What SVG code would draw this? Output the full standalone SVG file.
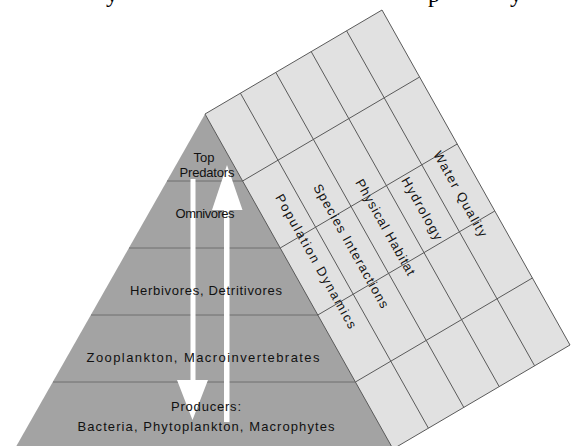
<svg xmlns="http://www.w3.org/2000/svg" width="577" height="446" viewBox="0 0 577 446">
  <style>
    .lbl { font-family: "Liberation Sans", Arial, sans-serif; font-size: 13px; fill: #111; }
    .band { stroke: #6e6e6e; stroke-width: 1; fill: none; }
    .grid { stroke: #5a5a5a; stroke-width: 1; fill: none; }
    .arrow { fill: #ffffff; stroke: none; }
    .frag { font-family: "Liberation Serif", "Times New Roman", serif; font-size: 24px; fill: #000; }
  </style>
  <rect width="577" height="446" fill="#ffffff"/>
  <g id="page-text-fragments">
    <text class="frag" x="106" y="2">y</text>
    <text class="frag" x="428" y="2">p</text>
    <text class="frag" x="510" y="2">y</text>
  </g>
  <g id="pyramid">
    <polygon points="205,114 13,452 400,452" fill="#a3a3a3"/>
    <line class="band" x1="167" y1="181" x2="243" y2="181"/>
    <line class="band" x1="129" y1="248" x2="281" y2="248"/>
    <line class="band" x1="91" y1="315" x2="318" y2="315"/>
    <line class="band" x1="53" y1="382" x2="356" y2="382"/>
  </g>
  <g id="roof">
    <polygon points="205,114 382,10 570,345 393,449" fill="#e1e1e1" stroke="#5a5a5a" stroke-width="1"/>
    <line class="grid" x1="240.4" y1="93.2" x2="428.4" y2="428.2"/>
    <line class="grid" x1="275.8" y1="72.4" x2="463.8" y2="407.4"/>
    <line class="grid" x1="311.2" y1="51.6" x2="499.2" y2="386.6"/>
    <line class="grid" x1="346.6" y1="30.8" x2="534.6" y2="365.8"/>
    <line class="grid" x1="242.6" y1="181" x2="419.6" y2="77"/>
    <line class="grid" x1="280.2" y1="248" x2="457.2" y2="144"/>
    <line class="grid" x1="317.8" y1="315" x2="494.8" y2="211"/>
    <line class="grid" x1="355.4" y1="382" x2="532.4" y2="278"/>
  </g>
  <g id="connectors">
    <polygon class="arrow" points="190.5,179 195.5,179 195.5,380 208,380 192.5,420 177,380 190.5,380"/>
    <polygon class="arrow" points="224,422 229.5,422 229.5,210 242.5,210 227,165 212,210 224,210"/>
  </g>
  <g id="level-top-predators">
    <text class="lbl" x="204" y="162" text-anchor="middle">Top</text>
    <text class="lbl" x="207" y="177" text-anchor="middle" textLength="55">Predators</text>
  </g>
  <g id="level-omnivores">
    <text class="lbl" x="205" y="218" text-anchor="middle" textLength="59">Omnivores</text>
  </g>
  <g id="level-herbivores">
    <text class="lbl" x="206" y="295" text-anchor="middle" textLength="152">Herbivores, Detritivores</text>
  </g>
  <g id="level-zooplankton">
    <text class="lbl" x="203" y="362" text-anchor="middle" textLength="233">Zooplankton,  Macroinvertebrates</text>
  </g>
  <g id="level-producers">
    <text class="lbl" x="206" y="411" text-anchor="middle" textLength="70">Producers:</text>
    <text class="lbl" x="206" y="431" text-anchor="middle" textLength="257">Bacteria, Phytoplankton, Macrophytes</text>
  </g>
  <g id="factor-population-dynamics">
    <text class="lbl" dominant-baseline="central" transform="translate(279,195) rotate(60.7)" textLength="152">Population Dynamics</text>
  </g>
  <g id="factor-species-interactions">
    <text class="lbl" dominant-baseline="central" transform="translate(317,185) rotate(60.7)" textLength="140">Species Interactions</text>
  </g>
  <g id="factor-physical-habitat">
    <text class="lbl" dominant-baseline="central" transform="translate(359,180) rotate(60.7)" textLength="108">Physical Habitat</text>
  </g>
  <g id="factor-hydrology">
    <text class="lbl" dominant-baseline="central" transform="translate(405,178) rotate(60.7)" textLength="70">Hydrology</text>
  </g>
  <g id="factor-water-quality">
    <text class="lbl" dominant-baseline="central" transform="translate(437,152) rotate(60.7)" textLength="96">Water Quality</text>
  </g>
</svg>
